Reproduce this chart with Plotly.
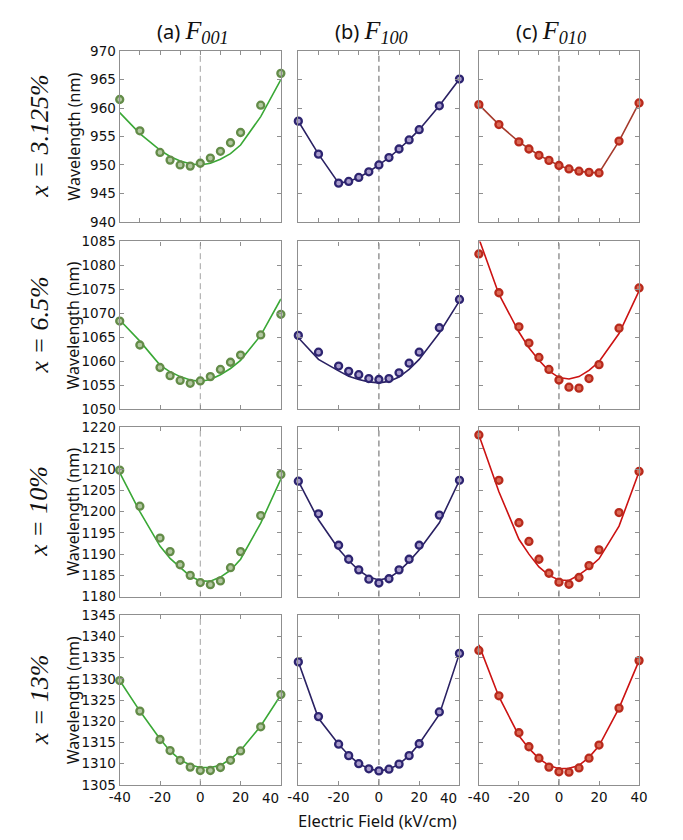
import plotly.graph_objects as go

# ---------------- data ----------------
field = [-40, -30, -20, -15, -10, -5, 0, 5, 10, 15, 20, 30, 40]

row_labels = ["x = 3.125%", "x = 6.5%", "x = 10%", "x = 13%"]
col_titles = ["(a)", "(b)", "(c)"]
col_subs = ["001", "100", "010"]

y_ranges = [[940, 970], [1050, 1085], [1180, 1220], [1305, 1345]]
x_tickvals = [-40, -20, 0, 20, 40]
x_ticktext = ["-40", "-20", "0", "20", "40"]

# measured points [row][col]
pts_r1_a = [961.5, 956.0, 952.2, 950.85, 950.0, 949.8, 950.3, 951.2, 952.4, 953.9, 955.7, 960.5, 966.1]
pts_r1_b = [957.7, 951.9, 946.8, 947.1, 947.8, 948.8, 950.0, 951.3, 952.8, 954.4, 956.2, 960.4, 965.1]
pts_r1_c = [960.6, 957.1, 954.05, 952.8, 951.7, 950.8, 949.9, 949.3, 948.9, 948.7, 948.6, 954.2, 960.9]

pts_r2_a = [1068.4, 1063.4, 1058.7, 1057.0, 1056.0, 1055.4, 1055.9, 1056.8, 1058.3, 1059.8, 1061.3, 1065.5, 1069.8]
pts_r2_b = [1065.4, 1061.9, 1059.0, 1057.9, 1057.2, 1056.4, 1056.2, 1056.4, 1057.6, 1059.6, 1061.9, 1067.0, 1072.9]
pts_r2_c = [1082.4, 1074.3, 1067.2, 1063.8, 1060.8, 1058.3, 1056.1, 1054.6, 1054.4, 1056.4, 1059.3, 1066.9, 1075.3]

pts_r3_a = [1209.8, 1201.3, 1193.8, 1190.6, 1187.5, 1185.0, 1183.3, 1182.8, 1183.7, 1186.8, 1190.6, 1199.1, 1208.8]
pts_r3_b = [1207.2, 1199.5, 1192.1, 1188.8, 1186.3, 1184.1, 1183.2, 1184.2, 1186.3, 1188.8, 1192.1, 1199.2, 1207.4]
pts_r3_c = [1218.1, 1207.4, 1197.4, 1193.0, 1188.8, 1185.5, 1183.4, 1182.9, 1184.5, 1187.3, 1191.0, 1199.8, 1209.5]

pts_r4_a = [1329.6, 1322.4, 1315.7, 1313.1, 1310.8, 1309.2, 1308.4, 1308.4, 1309.1, 1310.8, 1313.0, 1318.7, 1326.3]
pts_r4_b = [1334.0, 1321.1, 1314.6, 1311.9, 1310.0, 1308.8, 1308.3, 1308.7, 1309.9, 1311.9, 1314.7, 1322.2, 1336.0]
pts_r4_c = [1336.7, 1326.0, 1317.3, 1314.0, 1311.3, 1309.2, 1308.1, 1308.0, 1309.0, 1311.3, 1314.4, 1323.1, 1334.3]

# fitted / connecting lines [row][col]
fit_r1_a = [959.2, 955.5, 952.6, 951.5, 950.7, 950.2, 950.0, 950.3, 951.0, 952.0, 953.5, 958.5, 965.0]
fit_r1_b = pts_r1_b
fit_r1_c = pts_r1_c

fit_r2_a = [1068.6, 1064.2, 1059.2, 1057.8, 1056.8, 1056.1, 1055.8, 1056.2, 1057.2, 1058.5, 1060.2, 1065.4, 1073.0]
fit_r2_b = [1064.9, 1060.4, 1058.0, 1056.9, 1056.2, 1055.7, 1055.5, 1055.8, 1056.7, 1058.3, 1060.4, 1065.9, 1072.6]
fit_r2_c = [1085.6, 1074.0, 1066.1, 1062.8, 1060.2, 1058.0, 1056.6, 1056.3, 1056.8, 1058.1, 1059.9, 1065.8, 1074.7]

fit_r3_a = [1209.2, 1200.0, 1191.9, 1189.0, 1186.9, 1184.8, 1183.7, 1183.6, 1184.6, 1186.2, 1188.8, 1197.3, 1207.7]
fit_r3_b = [1207.2, 1198.1, 1191.2, 1188.5, 1186.2, 1184.6, 1183.9, 1184.4, 1186.0, 1188.3, 1191.0, 1197.4, 1207.4]
fit_r3_c = [1218.1, 1204.7, 1193.5, 1190.0, 1187.0, 1185.0, 1183.9, 1183.8, 1185.1, 1186.8, 1188.9, 1196.6, 1209.4]

fit_r4_a = [1329.6, 1322.4, 1315.8, 1313.0, 1310.9, 1309.7, 1309.1, 1309.1, 1309.6, 1311.1, 1313.1, 1318.9, 1326.2]
fit_r4_b = [1334.0, 1320.7, 1314.6, 1312.0, 1310.0, 1308.8, 1308.3, 1308.7, 1309.9, 1311.9, 1314.7, 1321.6, 1336.0]
fit_r4_c = [1338.0, 1325.8, 1316.6, 1313.6, 1311.2, 1309.6, 1308.8, 1308.9, 1309.6, 1311.5, 1314.2, 1323.1, 1334.3]

points = [[pts_r1_a, pts_r1_b, pts_r1_c],
          [pts_r2_a, pts_r2_b, pts_r2_c],
          [pts_r3_a, pts_r3_b, pts_r3_c],
          [pts_r4_a, pts_r4_b, pts_r4_c]]
fits = [[fit_r1_a, fit_r1_b, fit_r1_c],
        [fit_r2_a, fit_r2_b, fit_r2_c],
        [fit_r3_a, fit_r3_b, fit_r3_c],
        [fit_r4_a, fit_r4_b, fit_r4_c]]

# ---------------- styling ----------------
W, H = 683, 840
col_px = [(112, 278), (296, 462), (482, 647)]
row_px = [(44, 218), (238, 409), (427, 600), (619, 792)]

line_colors = ["#3aa836", "#2a2163", "#cc1212"]
line_colors_r1c = "#a53a2c"
marker_fill = ["#b3c8a2", "#a99dcc", "#dc6a56"]
marker_edge = ["#638c48", "#2d2470", "#b82a1c"]
dash_colors = ["#a3a3a3", "#858585", "#858585"]
dash_widths = [1.0, 1.3, 1.3]

SANS = "Noto Sans, Liberation Sans, Arial, sans-serif"
TICKF = "DejaVu Sans, Noto Sans, sans-serif"
SERIF = "Liberation Serif, DejaVu Serif, serif"
frame = "#8f8f8f"

fig = go.Figure()
layout = dict(width=W, height=H, margin=dict(l=0, r=0, t=0, b=0),
              plot_bgcolor="white", paper_bgcolor="white", showlegend=False)

shapes = []
annotations = []
for r in range(4):
    for c in range(3):
        idx = r * 3 + c + 1
        xa = "x" if idx == 1 else f"x{idx}"
        ya = "y" if idx == 1 else f"y{idx}"
        xkey = "xaxis" if idx == 1 else f"xaxis{idx}"
        ykey = "yaxis" if idx == 1 else f"yaxis{idx}"
        x0, x1 = col_px[c]
        y0, y1 = row_px[r]
        lc = line_colors[c]
        if r == 0 and c == 2:
            lc = line_colors_r1c
        fig.add_trace(go.Scatter(x=field, y=fits[r][c], mode="lines",
                                 line=dict(color=lc, width=1.6),
                                 xaxis=xa, yaxis=ya, cliponaxis=True))
        fig.add_trace(go.Scatter(x=field, y=points[r][c], mode="markers",
                                 marker=dict(size=7, color=marker_fill[c],
                                             line=dict(color=marker_edge[c], width=2.3)),
                                 xaxis=xa, yaxis=ya, cliponaxis=False))
        tv = list(x_tickvals)
        tt = list(x_ticktext)
        if c < 2:
            tv = tv[:-1]
            tt = tt[:-1]
        xdict = dict(domain=[x0 / W, x1 / W], anchor=ya, range=[-40, 40],
                     tickmode="array", tickvals=tv, ticktext=tt,
                     ticks="inside", ticklen=4, tickcolor=frame,
                     showline=True, linecolor=frame, linewidth=1.3, mirror="ticks",
                     showgrid=False, zeroline=False,
                     showticklabels=(r == 3),
                     tickfont=dict(family=TICKF, size=13.5, color="#111"))
        if r == 0:
            xdict["minor"] = dict(dtick=10, tick0=0, ticks="inside", ticklen=4,
                                  tickcolor=frame, showgrid=False)
        layout[xkey] = xdict
        layout[ykey] = dict(domain=[1 - y1 / H, 1 - y0 / H], anchor=xa, range=y_ranges[r],
                            dtick=5, ticks="inside", ticklen=4, tickcolor=frame,
                            showline=True, linecolor=frame, linewidth=1.3, mirror="ticks",
                            showgrid=False, zeroline=False,
                            showticklabels=(c == 0),
                            tickfont=dict(family=TICKF, size=13.5, color="#111"))
        shapes.append(dict(type="line", xref=xa, yref=f"{ya} domain", x0=0, x1=0, y0=0, y1=1,
                           line=dict(color=dash_colors[c], width=dash_widths[c], dash="6px,4px"),
                           layer="below"))
        # last x label of the left/middle columns sits inside the frame edge (right aligned)
        if r == 3 and c < 2:
            annotations.append(dict(text=x_ticktext[-1], x=x_tickvals[-1], xref=xa,
                                    y=1 - 805 / H, yref="paper", xanchor="right",
                                    yanchor="middle", showarrow=False,
                                    font=dict(family=TICKF, size=13.5, color="#111")))
    # row label
    yc = 1 - (row_px[r][0] + row_px[r][1]) / 2 / H
    annotations.append(dict(text=f"<i>{row_labels[r]}</i>", x=29 / W, y=yc, xref="paper", yref="paper",
                            textangle=-90, showarrow=False, xanchor="center", yanchor="middle",
                            font=dict(family=SERIF, size=26, color="#111")))
    annotations.append(dict(text="Wavelength (nm)", x=64 / W, y=yc, xref="paper", yref="paper",
                            textangle=-90, showarrow=False, xanchor="center", yanchor="middle",
                            font=dict(family=SANS, size=16, color="#111")))

for c in range(3):
    xc = ((col_px[c][0] + col_px[c][1]) / 2 - 8) / W
    txt = (f"{col_titles[c]} <span style='font-family:Liberation Serif;font-size:26px'><i>F</i>"
           f"<sub><i>{col_subs[c]}</i></sub></span>")
    annotations.append(dict(text=txt, x=xc, y=1 - 24 / H, xref="paper", yref="paper",
                            showarrow=False, xanchor="center", yanchor="middle",
                            font=dict(family=SANS, size=20, color="#111")))

annotations.append(dict(text="Electric Field (kV/cm)", x=378 / W, y=1 - 828 / H,
                        xref="paper", yref="paper", showarrow=False,
                        xanchor="center", yanchor="middle",
                        font=dict(family=SANS, size=16.5, color="#111")))

layout["shapes"] = shapes
layout["annotations"] = annotations
fig.update_layout(**layout)
fig.write_html("out.html", config={"displayModeBar": False},
               post_script="document.body.style.margin='0px';")
